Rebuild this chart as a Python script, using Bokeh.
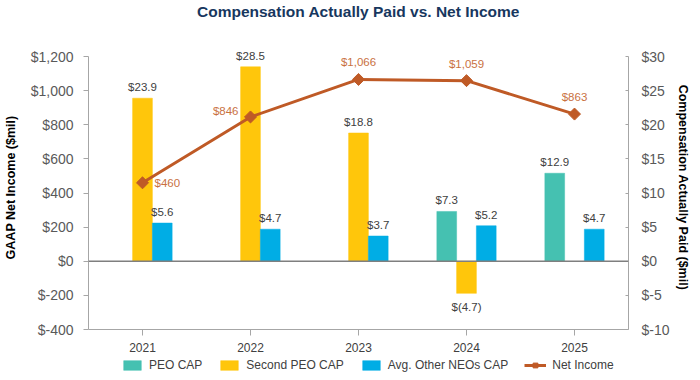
import math
from bokeh.plotting import figure
from bokeh.layouts import column
from bokeh.models import (Range1d, LinearAxis, FactorRange, ColumnDataSource, Legend,
                          LegendItem, Span, FixedTicker)
from bokeh.transform import dodge
from bokeh.core.properties import value
from bokeh.embed import file_html
from bokeh.resources import INLINE

# ---- data ----
years = ["2021", "2022", "2023", "2024", "2025"]
peo_cap = [None, None, None, 7.3, 12.9]
second_peo_cap = [23.9, 28.5, 18.8, -4.7, None]
avg_neo_cap = [5.6, 4.7, 3.7, 5.2, 4.7]
net_income = [460, 846, 1066, 1059, 863]
left_ticks = [-400, -200, 0, 200, 400, 600, 800, 1000, 1200]
right_ticks = [-10, -5, 0, 5, 10, 15, 20, 25, 30]
series_names = ["PEO CAP", "Second PEO CAP", "Avg. Other NEOs CAP", "Net Income"]
chart_title = "Compensation Actually Paid vs. Net Income"

# ---- styles ----
FONT = "Liberation Sans"
C_PEO = "#45C1B1"
C_SECOND = "#FFC60B"
C_AVG = "#00ADE5"
C_NI = "#BF5A26"
C_NI_LBL = "#C9713F"
TXT = "#404040"
AX = "#A6A6A6"
BAR_W = 0.183
ni_label_pos = ["right", "left", "above", "above", "above"]


def strip(h):
    f = figure(width=692, height=h, x_range=Range1d(0, 1), y_range=Range1d(0, 1),
               output_backend="svg", toolbar_location=None, x_axis_location=None,
               y_axis_location=None, min_border=0)
    f.outline_line_color = None
    f.grid.visible = False
    return f


# ---- title strip ----
tp = strip(22)
tp.title.text = chart_title
tp.title.align = "center"
tp.title.text_font = FONT
tp.title.text_font_size = "15.5px"
tp.title.text_font_style = "bold"
tp.title.text_color = "#17375E"
tp.title.standoff = 0

# ---- main chart ----
p = figure(width=692, height=334, x_range=FactorRange(factors=years, range_padding=0),
           y_range=Range1d(-400, 1265), output_backend="svg", toolbar_location=None,
           min_border_left=86, min_border_right=59, min_border_top=23, min_border_bottom=27)
p.extra_y_ranges = {"cap": Range1d(-10, 31.625)}
p.outline_line_color = None
p.grid.visible = False
p.background_fill_color = "white"
p.border_fill_color = "white"

# zero line
p.add_layout(Span(location=0, dimension="width", line_color="#7F7F7F", line_width=1.5))


def bar_series(vals, offset, color):
    xs = [y for y, v in zip(years, vals) if v is not None]
    vs = [v for v in vals if v is not None]
    txt = [f"${v}" if v >= 0 else f"$({-v})" for v in vs]
    yoff = [-11 if v >= 0 else 14 for v in vs]
    src = ColumnDataSource(dict(year=xs, val=vs, txt=txt, yoff=yoff))
    r = p.vbar(x=dodge("year", offset, range=p.x_range), top="val", bottom=0, width=BAR_W,
               source=src, fill_color=color, line_color=color, line_alpha=0.5,
               y_range_name="cap")
    p.text(x=dodge("year", offset, range=p.x_range), y="val", text="txt", source=src,
           y_offset="yoff", text_align="center", text_baseline="middle",
           text_font=value(FONT), text_font_size="11.5px", text_color=TXT,
           y_range_name="cap")
    return r


bar_series(peo_cap, -BAR_W, C_PEO)
bar_series(second_peo_cap, 0, C_SECOND)
bar_series(avg_neo_cap, BAR_W, C_AVG)

# net income line
ni_txt = [f"${v:,}" for v in net_income]
pos_map = {"right": (12, 0, "left"), "left": (-12, -6, "right"), "above": (0, -17, "center")}
ni_src = ColumnDataSource(dict(
    year=years, ni=net_income, txt=ni_txt,
    xoff=[pos_map[k][0] for k in ni_label_pos],
    yoff=[pos_map[k][1] for k in ni_label_pos],
    align=[pos_map[k][2] for k in ni_label_pos]))
p.line(x="year", y="ni", source=ni_src, line_color=C_NI, line_width=3)
p.scatter(x="year", y="ni", source=ni_src, marker="square", angle=math.pi / 4,
          size=8.5, fill_color=C_NI, line_color=C_NI)
p.text(x="year", y="ni", text="txt", source=ni_src, x_offset="xoff", y_offset="yoff",
       text_align="align", text_baseline="middle", text_font=value(FONT),
       text_font_size="11.5px", text_color=C_NI_LBL)

# axes
ly = p.yaxis[0]
ly.ticker = FixedTicker(ticks=left_ticks)
ly.bounds = (left_ticks[0], left_ticks[-1])
ly.major_label_overrides = {t: f"${t:,}" for t in left_ticks}
ly.axis_label = "GAAP Net Income ($mil)"
ly.axis_label_text_font = FONT
ly.axis_label_text_font_size = "12.5px"
ly.axis_label_text_font_style = "bold"
ly.axis_label_text_color = "#000000"
ly.axis_label_standoff = 10
ly.major_label_text_font = FONT
ly.major_label_text_font_size = "14px"
ly.major_label_text_color = "#595959"
ly.major_label_standoff = 10
ly.axis_line_color = AX
ly.major_tick_line_color = AX
ly.major_tick_out = 5
ly.major_tick_in = 0
ly.minor_tick_line_color = None

ry = LinearAxis(y_range_name="cap", ticker=FixedTicker(ticks=right_ticks))
ry.bounds = (right_ticks[0], right_ticks[-1])
ry.major_label_overrides = {t: f"${t}" for t in right_ticks}
ry.axis_label = "Compensation Actually Paid ($mil)"
ry.axis_label_text_font = FONT
ry.axis_label_text_font_size = "12.5px"
ry.axis_label_text_font_style = "bold"
ry.axis_label_text_color = "#000000"
ry.axis_label_standoff = 3
ry.major_label_text_font = FONT
ry.major_label_text_font_size = "14px"
ry.major_label_text_color = "#595959"
ry.major_label_standoff = 13
ry.axis_line_color = AX
ry.major_tick_line_color = AX
ry.major_tick_out = 0
ry.major_tick_in = 3
ry.minor_tick_line_color = None
p.add_layout(ry, "right")

xa = p.xaxis[0]
xa.axis_line_color = AX
xa.major_tick_line_color = AX
xa.major_tick_out = 6
xa.major_tick_in = 0
xa.major_label_text_font = FONT
xa.major_label_text_font_size = "12px"
xa.major_label_text_color = TXT
xa.major_label_standoff = 7

# ---- legend strip (separate small figure under the chart) ----
lp = strip(16)


def proxy():
    # one off-screen point so that the legend can draw the series' glyph
    return ColumnDataSource(dict(x=[-5.0], y=[-5.0]))


lr = []
for c in (C_PEO, C_SECOND, C_AVG):
    lr.append([lp.vbar(x="x", top="y", width=0.1, source=proxy(),
                       fill_color=c, line_color=c, line_alpha=0.5)])
lr.append([lp.line(x="x", y="y", source=proxy(), line_color=C_NI, line_width=3),
           lp.scatter(x="x", y="y", source=proxy(), marker="square",
                      angle=math.pi / 4, size=8.5, fill_color=C_NI, line_color=C_NI)])
legend = Legend(items=[LegendItem(label=n, renderers=r) for n, r in zip(series_names, lr)],
                orientation="horizontal", location=(33, 0))
legend.padding = 0
legend.margin = 0
legend.spacing = 16
legend.label_standoff = 6
legend.glyph_width = 22
legend.glyph_height = 12
legend.label_height = 12
legend.label_text_font = FONT
legend.label_text_font_size = "12px"
legend.label_text_color = TXT
legend.border_line_color = None
legend.background_fill_alpha = 0
lp.add_layout(legend, "center")

open("out.html", "w").write(file_html(column(tp, p, lp, spacing=0), INLINE))
